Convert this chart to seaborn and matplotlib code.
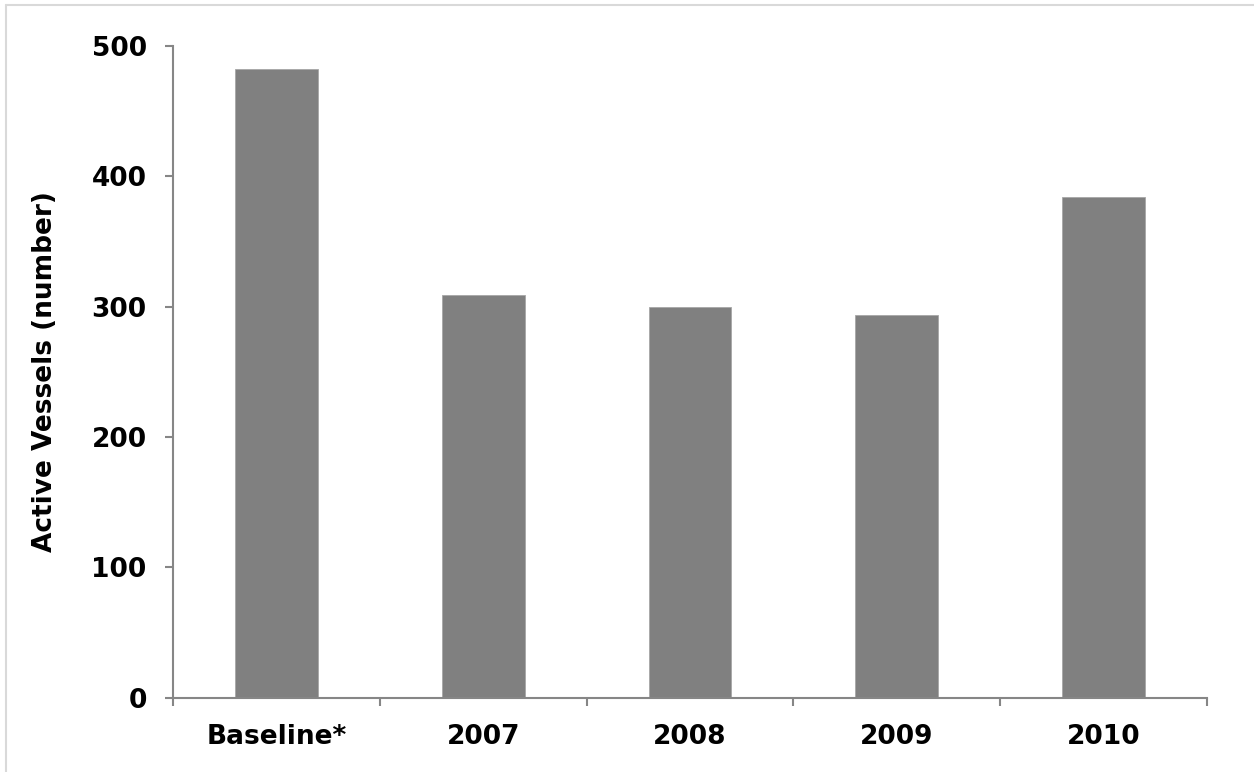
import numpy as np
import pandas as pd
import matplotlib
matplotlib.use("Agg")
import matplotlib.pyplot as plt
from matplotlib.lines import Line2D
import seaborn as sns

categories = ["Baseline*", "2007", "2008", "2009", "2010"]
vessels = [482, 309, 300, 294, 384]
y_ticks = [0, 100, 200, 300, 400, 500]


def make_chart():
    sns.set_style("white")
    plt.rcParams['font.family'] = ['DejaVu Sans']

    df = pd.DataFrame({"category": categories, "vessels": vessels})

    fig = plt.figure(figsize=(12.54, 7.72), dpi=100)
    ax = fig.add_axes([0.138, 0.096, 0.8245, 0.8445])

    sns.barplot(data=df, x="category", y="vessels", color="#808080",
                saturation=1, width=0.4, edgecolor="#a6a6a6", linewidth=0.6, ax=ax)

    grey = "#868686"
    fs = 19
    ax.set_ylim(0, 500)
    ax.set_xlim(-0.5, len(categories) - 0.5)
    ax.set_yticks(y_ticks)
    ax.set_yticklabels([str(t) for t in y_ticks], fontsize=fs, fontweight="bold", color="black")
    ax.set_xticks(range(len(categories)))
    ax.set_xticklabels(categories, fontsize=fs, fontweight="bold", color="black")
    # category boundaries carry the tick marks
    ax.set_xticks(np.arange(-0.5, len(categories), 1), minor=True)

    ax.tick_params(axis="y", which="major", left=True, length=6, width=1.5,
                   color=grey, pad=13, direction="out")
    ax.tick_params(axis="x", which="major", bottom=True, length=0, pad=19)
    ax.tick_params(axis="x", which="minor", bottom=True, length=6, width=1.5,
                   color=grey, direction="out")

    for side in ["top", "right"]:
        ax.spines[side].set_visible(False)
    for side in ["left", "bottom"]:
        ax.spines[side].set_color(grey)
        ax.spines[side].set_linewidth(1.5)

    ax.set_xlabel("")
    ax.set_ylabel("Active Vessels (number)", fontsize=fs, fontweight="bold", color="black")
    ax.yaxis.set_label_coords(-0.111, 0.5)

    # light frame on the left and top edge of the picture
    fig.add_artist(Line2D([6 / 1254, 6 / 1254], [0, 1 - 5 / 772],
                          transform=fig.transFigure, color="#d9d9d9", linewidth=1.5))
    fig.add_artist(Line2D([6 / 1254, 1], [1 - 5 / 772, 1 - 5 / 772],
                          transform=fig.transFigure, color="#d9d9d9", linewidth=1.5))

    fig.savefig("out.png", dpi=100)


if __name__ == '__main__':
    make_chart()
